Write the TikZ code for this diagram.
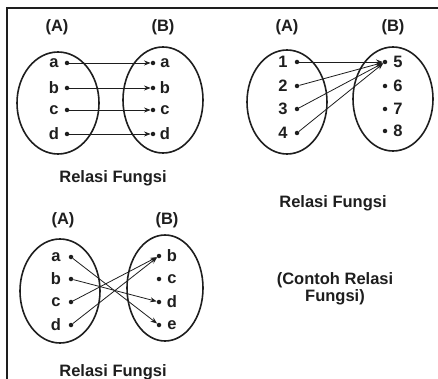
\documentclass[tikz,border=0pt]{standalone}
\usepackage{fontspec}
\setmainfont{Liberation Sans}
\usetikzlibrary{arrows.meta}
\definecolor{ink}{RGB}{30,30,30}
\begin{document}
\begin{tikzpicture}[x=1pt,y=-1pt,
  lbl/.style={font=\fontsize{16.5}{18}\selectfont\bfseries,text=ink,inner sep=0pt},
  dotn/.style={circle,fill=ink,inner sep=0pt,minimum size=4.5pt},
  setell/.style={draw=ink,line width=1.6pt},
  maparrow/.style={draw=ink,line width=0.8pt,-{Stealth[length=6.5pt,width=5pt]}},
  frameline/.style={draw=ink,line width=1.5pt}]
\useasboundingbox (0,0) rectangle (438,379);
% frame
\coordinate (fTL) at (7,8);
\coordinate (fTR) at (438,8);
\coordinate (fBL) at (7,379);
\draw[frameline] (fTR) -- (fTL) -- (fBL);

% ---------- Panel 1 ----------
\node[lbl] (p1A) at (57,27) {(A)};
\node[lbl] (p1B) at (163,27) {(B)};
\draw[setell] (58,103) ellipse [x radius=41, y radius=51];
\draw[setell] (163,100) ellipse [x radius=40, y radius=53];
\foreach \n/\y in {a/63,b/88,c/110,d/134}{
  \node[lbl] (p1l\n) at (54,\y) {\n};
  \node[dotn] (p1x\n) at (67,\y) {};
  \node[dotn] (p1y\n) at (153,\y) {};
  \node[lbl] (p1r\n) at (165,\y) {\n};
}
\foreach \n in {a,b,c,d}{ \draw[maparrow] (p1x\n) -- (p1y\n); }
\node[lbl] (p1cap) at (113,178) {Relasi Fungsi};

% ---------- Panel 2 ----------
\node[lbl] (p2A) at (287,27) {(A)};
\node[lbl] (p2B) at (393,27) {(B)};
\draw[setell] (287,102) ellipse [x radius=40, y radius=52];
\draw[setell] (393,99) ellipse [x radius=40, y radius=52];
\foreach \n/\y in {1/62,2/86,3/109,4/133}{
  \node[lbl] (p2l\n) at (283,\y) {\n};
  \node[dotn] (p2x\n) at (297,\y) {};
}
\foreach \n/\y in {5/62,6/86,7/109,8/131}{
  \node[dotn] (p2y\n) at (385,\y) {};
  \node[lbl] (p2r\n) at (398,\y) {\n};
}
\foreach \n in {1,2,3,4}{ \draw[maparrow] (p2x\n) -- (p2y5); }
\node[lbl] (p2cap) at (333,203) {Relasi Fungsi};

% ---------- Panel 3 ----------
\node[lbl] (p3A) at (63,220) {(A)};
\node[lbl] (p3B) at (167,220) {(B)};
\draw[setell] (60,291) ellipse [x radius=40, y radius=52];
\draw[setell] (165,288) ellipse [x radius=38, y radius=53];
\foreach \n/\y in {a/257,b/279,c/302,d/325}{
  \node[lbl] (p3l\n) at (56,\y) {\n};
  \node[dotn] (p3x\n) at (71,\y) {};
}
\foreach \n/\y in {b/256,c/279,d/302,e/325}{
  \node[dotn] (p3y\n) at (159,\y) {};
  \node[lbl] (p3r\n) at (172,\y) {\n};
}
\draw[maparrow] (p3xa) -- (p3ye);
\draw[maparrow] (p3xb) -- (p3yd);
\draw[maparrow] (p3xc) -- (p3yb);
\draw[maparrow] (p3xd) -- (p3yb);
\node[lbl] (p3cap) at (113,372) {Relasi Fungsi};

% ---------- Panel 4 ----------
\node[lbl,align=center,font=\fontsize{16.5}{17}\selectfont\bfseries] (p4cap) at (335,289) {(Contoh Relasi\\Fungsi)};
\end{tikzpicture}
\end{document}
